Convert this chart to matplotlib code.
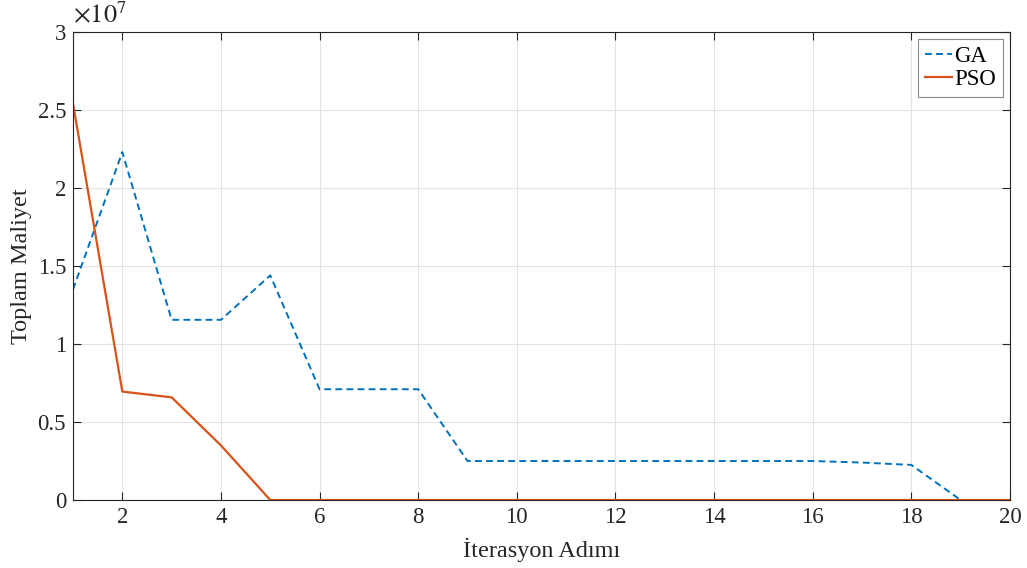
import matplotlib
matplotlib.use("Agg")
import matplotlib.pyplot as plt
from matplotlib.ticker import FuncFormatter, MultipleLocator

plt.rcParams['font.family'] = ['Liberation Serif', 'DejaVu Serif']
plt.rcParams['mathtext.fontset'] = 'stix'

iterations = list(range(1, 21))
ga_cost = [1.35e7, 2.23e7, 1.155e7, 1.155e7, 1.44e7, 0.71e7, 0.71e7, 0.71e7,
           0.25e7, 0.25e7, 0.25e7, 0.25e7, 0.25e7, 0.25e7, 0.25e7, 0.25e7,
           0.24e7, 0.225e7, 0.0, 0.0]
pso_cost = [2.54e7, 0.695e7, 0.658e7, 0.35e7, 0.0, 0.0, 0.0, 0.0, 0.0, 0.0,
            0.0, 0.0, 0.0, 0.0, 0.0, 0.0, 0.0, 0.0, 0.0, 0.0]
x_label = 'İterasyon Adımı'
y_label = 'Toplam Maliyet'

fig = plt.figure(figsize=(10.27, 5.68), dpi=100)
ax = fig.add_axes([0.0711, 0.1197, 0.9123, 0.824])

ax.plot(iterations, ga_cost, linestyle=(0, (3.5, 2.2)), color='#0072BD', lw=1.4, label='GA')
ax.plot(iterations, pso_cost, linestyle='-', color='#D95319', lw=1.6, label='PSO')

ax.set_xlim(1, 20)
ax.set_ylim(0, 3e7)
ax.xaxis.set_major_locator(MultipleLocator(2))
ax.yaxis.set_major_locator(MultipleLocator(0.5e7))
ax.yaxis.set_major_formatter(FuncFormatter(lambda v, p: f'{v/1e7:g}'))
ax.grid(True, color='#e3e3e3', lw=0.8)
ax.set_axisbelow(True)
ax.tick_params(direction='in', top=True, right=True, labelsize=16.5, length=6,
               width=0.8, colors='#262626', pad=5)
for s in ax.spines.values():
    s.set_color('#262626')
    s.set_linewidth(0.8)

ax.set_xlabel(x_label, fontsize=17.5, color='#262626', labelpad=7)
ax.set_ylabel(y_label, fontsize=17.5, color='#262626', labelpad=4)
ax.text(0.0, 1.008, r'$\times10^{7}$', transform=ax.transAxes, fontsize=19,
        color='#262626', ha='left', va='bottom')

leg = ax.legend(loc='upper right', bbox_to_anchor=(1.0, 1.0), fontsize=16.5,
                handlelength=1.2, handletextpad=0.1, borderpad=0.3,
                labelspacing=0.1, fancybox=False, framealpha=1,
                edgecolor='#8c8c8c', borderaxespad=0.3)
leg.get_frame().set_linewidth(0.8)

fig.savefig('out.png', dpi=100)
